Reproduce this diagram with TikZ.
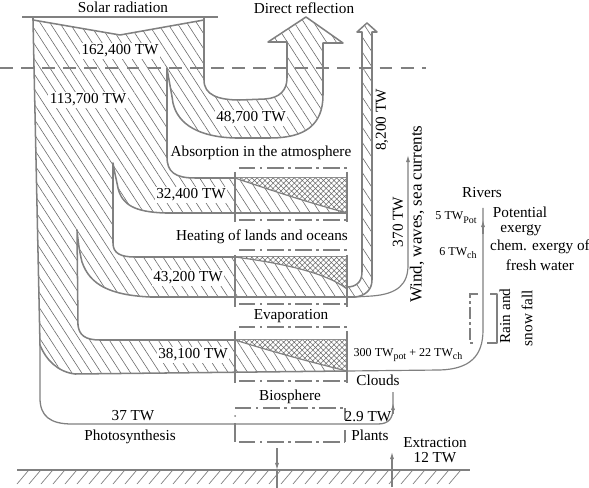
\documentclass[tikz,border=0pt]{standalone}
\usepackage{fontspec}
\setmainfont{Liberation Serif}
\usetikzlibrary{calc,arrows.meta,patterns.meta}
\definecolor{trait}{RGB}{128,128,128}
\definecolor{hach}{RGB}{105,105,105}
\newcommand{\indice}[1]{\raisebox{-0.7ex}{\fontsize{8.5}{9}\selectfont #1}}

\begin{document}
\begin{tikzpicture}[x=0.03cm,y=-0.03cm]
    % Styles
    \tikzset{bord/.style={draw=trait, line width=1.3pt, line join=round}}%
    \tikzset{hachure/.style={pattern={Lines[angle=-57,distance=7pt,line width=0.5pt]}, pattern color=hach}}%
    \tikzset{quadrillage/.style={pattern={Hatch[angle=45,distance=3.2pt,line width=0.45pt]}, pattern color=hach}}%
    \tikzset{cadre/.style={draw=trait, line width=1.2pt, dash pattern=on 14pt off 4pt on 2pt off 4pt}}%
    \tikzset{fleche/.style={draw=trait, line width=0.9pt, -{Latex[length=6pt,width=3.5pt]}}}%
    \tikzset{etiquette/.style={font=\fontsize{13}{15}\selectfont, inner sep=0.5pt}}%
    \tikzset{petit/.style={font=\fontsize{10.3}{12}\selectfont, inner sep=0.5pt}}%
    \tikzset{fond/.style={fill=white, inner sep=1.5pt}}%

    \useasboundingbox (0,0) rectangle (589,488);%

    % Parameters
    \pgfmathsetmacro{\xg}{235}% left side of the boxes
    \pgfmathsetmacro{\xd}{347}% right side of the boxes

    % Energy flows
    \path[hachure, bord] (33,20) -- (120,35) -- (204,20) -- (204,80)
        .. controls (204,95) and (218,100) .. (240,100) -- (265,99)
        .. controls (280,98) and (287,90) .. (287,78) -- (287,42) -- (268,42) -- (306,17) -- (343,43) -- (323,43) -- (323,95)
        .. controls (323,125) and (305,138) .. (270,138) -- (235,138)
        .. controls (200,137) and (178,125) .. (173,103) .. controls (171,90) and (168,75) .. (167,68)
        -- (167,157) .. controls (167,172) and (175,178) .. (195,178) -- (\xd,178) -- (\xd,213) -- (165,213)
        .. controls (135,212) and (122,205) .. (118,188) .. controls (116,178) and (114,170) .. (113,163)
        -- (113,243) .. controls (113,253) and (120,257) .. (135,257) -- (\xd,257) -- (\xd,287)
        .. controls (355,287) and (362,283) .. (362,272) -- (362,32) -- (357,32) -- (367,23) -- (377,32) -- (372,32) -- (372,280)
        .. controls (372,290) and (365,296) .. (355,297) -- (150,297)
        .. controls (110,295) and (90,285) .. (82,262) .. controls (79,250) and (78,240) .. (77,230)
        -- (78,325) .. controls (79,335) and (85,340) .. (100,340) -- (\xd,340) -- (\xd,371) -- (75,374)
        .. controls (58,372) and (46,360) .. (40,345) -- cycle;%

    % Top of the solar flow
    \draw[bord] (22,17) -- (218,17) (33,17) -- (33,20) (204,17) -- (204,20);%

    % Exergy destruction
    \path[fill=white, postaction={quadrillage}] (\xg,178) -- (\xd,178) -- (\xd,213) .. controls (310,203) and (270,190) .. (\xg,178) -- cycle;%
    \path[fill=white, postaction={quadrillage}] (\xg,257) -- (\xd,257) -- (\xd,289) .. controls (325,272) and (280,263) .. (\xg,257) -- cycle;%
    \path[fill=white, postaction={quadrillage}] (\xg,340) -- (\xd,340) -- (\xd,371) .. controls (310,362) and (270,351) .. (\xg,340) -- cycle;%
    \draw[bord, line width=1pt] (\xd,213) .. controls (310,203) and (270,190) .. (\xg,178);%
    \draw[bord, line width=1pt] (\xd,289) .. controls (325,272) and (280,263) .. (\xg,257);%
    \draw[bord, line width=1pt] (\xd,371) .. controls (310,362) and (270,351) .. (\xg,340);%

    % Boxes
    \foreach \yh/\yb/\ya/\yz in {168/220/172/222, 250/304/255/307, 327/381/331/383}{%
        \draw[cadre] (\xg+4,\yh) -- (\xd,\yh);%
        \draw[cadre] (\xg+4,\yb) -- (\xd,\yb);%
        \draw[bord, line width=1.2pt] (\xg,\ya) -- (\xg,\yz) (\xd,\ya) -- (\xd,\yz);%
    }%
    \draw[cadre] (\xg,408) -- (\xd-2,408);%
    \draw[cadre] (\xg+4,442) -- (\xd-2,442);%
    \draw[bord, line width=1.2pt] (\xd-2,408) -- (\xd-2,420) (\xd-2,430) -- (\xd-2,442) (\xg,423) -- (\xg,442);%
    \fill[trait] (\xg,416) circle[radius=1];%

    % Rain and snow fall
    \draw[cadre, dash pattern=on 10pt off 3pt on 2pt off 3pt] (478,294) -- (470,294) -- (470,343) -- (476,343);%
    \draw[bord, line width=1.2pt] (490,294) -- (497,294) -- (497,343) -- (487,343);%

    % Outgoing lines
    \draw[bord, line width=1.1pt] (40,345) -- (40,398) .. controls (40,416) and (50,424) .. (72,424) -- (378,424)
        .. controls (389,424) and (393,418) .. (393,408) -- (393,392);%
    \draw[fleche] (393,414) -- (393,403);%
    \draw[bord, line width=1pt] (\xd,371) -- (440,370) .. controls (470,369) and (483,356) .. (483,330) -- (483,208);%
    \draw[fleche] (483,234) -- (483,220);%
    \draw[bord, line width=1pt, -{Latex[length=6pt,width=3.5pt]}] (355,297) -- (372,296) .. controls (398,294) and (408,284) .. (408,265) -- (408,155);%

    % Limit of the atmosphere
    \draw[trait, line width=1.3pt, dash pattern=on 11pt off 7pt] (0,68) -- (426,68);%

    % Ground
    \draw[trait, line width=1pt] (17,470) -- (470,470);%
    \foreach \i in {17,29,...,460}
        \draw[trait, line width=0.6pt] (\i,484) -- (\i+11,471);%
    \draw[fleche] (277,448) -- (277,470);%
    \draw[trait, line width=0.9pt] (277,470) -- (277,488);%
    \draw[fleche] (392,487) -- (392,452);%

    % Labels
    \node[etiquette] (solaire) at (123,7) {Solar radiation};%
    \node[etiquette] (reflexion) at (304,8) {Direct reflection};%
    \node[etiquette, fond] (total) at (120,51) {162,400 TW};%
    \node[etiquette, fond] (entrant) at (88,100) {113,700 TW};%
    \node[etiquette, fond] (renvoi) at (251,118) {48,700 TW};%
    \node[etiquette] (absorption) at (261,153) {Absorption in the atmosphere};%
    \node[etiquette, fond] (atmo) at (191,195) {32,400 TW};%
    \node[etiquette] (chauffage) at (262,237) {Heating of lands and oceans};%
    \node[etiquette, fond] (terre) at (188,278) {43,200 TW};%
    \node[etiquette] (evaporation) at (291,316) {Evaporation};%
    \node[etiquette, fond] (eau) at (193,355) {38,100 TW};%
    \node[etiquette] (biosphere) at (290,397) {Biosphere};%
    \node[etiquette] (photo) at (133,416) {37 TW};%
    \node[etiquette] (photosynthese) at (130,437) {Photosynthesis};%
    \node[etiquette] (clouds) at (378,380) {Clouds};%
    \node[etiquette] (plantes) at (368,417) {2.9 TW};%
    \node[etiquette] (plants) at (370,435) {Plants};%
    \node[etiquette] (extraction) at (435,443) {Extraction};%
    \node[etiquette] (extrait) at (435,458) {12 TW};%
    \node[petit] (nuages) at (408,355) {300 TW\indice{pot} + 22 TW\indice{ch}};%
    \node[etiquette, rotate=90] (rayonnement) at (382,120) {8,200 TW};%
    \node[etiquette, rotate=90] (vent) at (398,222) {370 TW};%
    \node[etiquette, rotate=90, font=\fontsize{14.5}{16}\selectfont] (courants) at (417,214) {Wind, waves, sea currents};%
    \node[etiquette] (rivieres) at (482,193) {Rivers};%
    \node[petit] (pot) at (456,218) {5 TW\indice{Pot}};%
    \node[petit] (chim) at (458,253) {6 TW\indice{ch}};%
    \node[etiquette] (potentiel) at (520,212) {Potential};%
    \node[etiquette] (exergie) at (521,230) {exergy};%
    \node[etiquette] (chimique) at (540,247) {chem. exergy of};%
    \node[etiquette] (douce) at (540,265) {fresh water};%
    \node[etiquette, rotate=90] (pluie) at (505,316) {Rain and};%
    \node[etiquette, rotate=90] (neige) at (527,318) {snow fall};%
\end{tikzpicture}
\end{document}
